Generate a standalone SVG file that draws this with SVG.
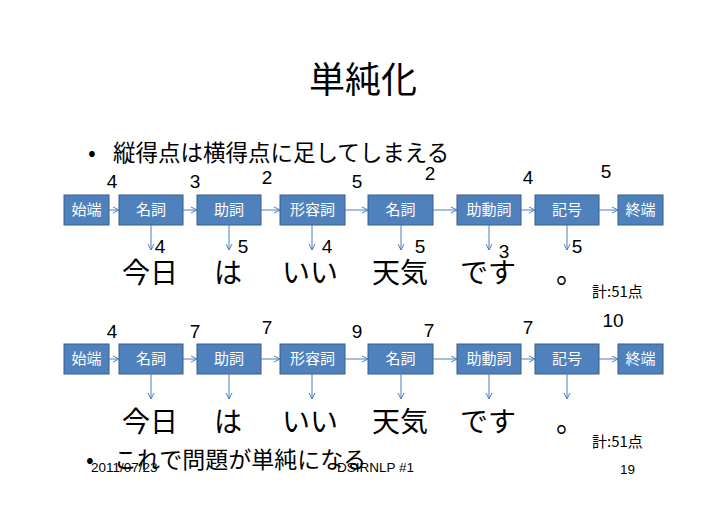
<svg xmlns="http://www.w3.org/2000/svg" width="728" height="515" viewBox="0 0 728 515">
<defs>
<marker id="ah" markerWidth="8" markerHeight="8" refX="7" refY="4" orient="auto" markerUnits="userSpaceOnUse">
<path d="M1,1 L7,4 L1,7" fill="none" stroke="#4a7ebb" stroke-width="1"/>
</marker>
</defs>
<style>
.jp{font-family:"Noto Sans CJK JP","Liberation Sans",sans-serif;fill:#000}
.box{fill:#4f81bd;stroke:#385d8a;stroke-width:1}
.bt{font-family:"Noto Sans CJK JP","Liberation Sans",sans-serif;font-size:15px;fill:#fff;text-anchor:middle}
.num{font-family:"Liberation Sans",sans-serif;font-size:19px;fill:#000;text-anchor:middle}
.word{font-family:"Noto Sans CJK JP",sans-serif;font-size:28px;fill:#000}
.tot{font-family:"Noto Sans CJK JP","Liberation Sans",sans-serif;font-size:15px;fill:#000}
.foot{font-family:"Liberation Sans",sans-serif;font-size:13.5px;fill:#000}
.conn line{stroke:#4a7ebb;stroke-width:1;marker-end:url(#ah)}
</style>
<rect width="728" height="515" fill="#fff"/>
<text class="jp" x="363" y="93" font-size="36" text-anchor="middle">単純化</text>
<text class="jp" x="88" y="161" font-size="23">•</text>
<text class="jp" x="113" y="161" font-size="22.5">縦得点は横得点に足してしまえる</text>

<!-- Row 1 -->
<g id="r1-start"><rect class="box" x="64" y="195" width="45" height="30"/><text class="bt" x="86.5" y="215">始端</text></g>
<g id="r1-noun1"><rect class="box" x="119" y="195" width="64" height="30"/><text class="bt" x="151" y="215">名詞</text></g>
<g id="r1-joshi"><rect class="box" x="197" y="195" width="64" height="30"/><text class="bt" x="229" y="215">助詞</text></g>
<g id="r1-adj"><rect class="box" x="280" y="195" width="65" height="30"/><text class="bt" x="312.5" y="215">形容詞</text></g>
<g id="r1-noun2"><rect class="box" x="368" y="195" width="65" height="30"/><text class="bt" x="400.5" y="215">名詞</text></g>
<g id="r1-aux"><rect class="box" x="457" y="195" width="64" height="30"/><text class="bt" x="489" y="215">助動詞</text></g>
<g id="r1-sym"><rect class="box" x="535" y="195" width="64" height="30"/><text class="bt" x="567" y="215">記号</text></g>
<g id="r1-end"><rect class="box" x="618" y="195" width="45" height="30"/><text class="bt" x="640.5" y="215">終端</text></g>

<!-- Row 2 -->
<g id="r2-start"><rect class="box" x="64" y="344" width="45" height="30"/><text class="bt" x="86.5" y="364">始端</text></g>
<g id="r2-noun1"><rect class="box" x="119" y="344" width="64" height="30"/><text class="bt" x="151" y="364">名詞</text></g>
<g id="r2-joshi"><rect class="box" x="197" y="344" width="64" height="30"/><text class="bt" x="229" y="364">助詞</text></g>
<g id="r2-adj"><rect class="box" x="280" y="344" width="65" height="30"/><text class="bt" x="312.5" y="364">形容詞</text></g>
<g id="r2-noun2"><rect class="box" x="368" y="344" width="65" height="30"/><text class="bt" x="400.5" y="364">名詞</text></g>
<g id="r2-aux"><rect class="box" x="457" y="344" width="64" height="30"/><text class="bt" x="489" y="364">助動詞</text></g>
<g id="r2-sym"><rect class="box" x="535" y="344" width="64" height="30"/><text class="bt" x="567" y="364">記号</text></g>
<g id="r2-end"><rect class="box" x="618" y="344" width="45" height="30"/><text class="bt" x="640.5" y="364">終端</text></g>

<g id="connectors" class="conn">
<line x1="109" y1="210" x2="119" y2="210"/>
<line x1="183" y1="210" x2="197" y2="210"/>
<line x1="261" y1="210" x2="280" y2="210"/>
<line x1="345" y1="210" x2="368" y2="210"/>
<line x1="433" y1="210" x2="457" y2="210"/>
<line x1="521" y1="210" x2="535" y2="210"/>
<line x1="599" y1="210" x2="618" y2="210"/>
<line x1="151" y1="225" x2="151" y2="250"/>
<line x1="229" y1="225" x2="229" y2="250"/>
<line x1="312" y1="225" x2="312" y2="250"/>
<line x1="401" y1="225" x2="401" y2="250"/>
<line x1="489" y1="225" x2="489" y2="250"/>
<line x1="567" y1="225" x2="567" y2="250"/>
<line x1="109" y1="359" x2="119" y2="359"/>
<line x1="183" y1="359" x2="197" y2="359"/>
<line x1="261" y1="359" x2="280" y2="359"/>
<line x1="345" y1="359" x2="368" y2="359"/>
<line x1="433" y1="359" x2="457" y2="359"/>
<line x1="521" y1="359" x2="535" y2="359"/>
<line x1="599" y1="359" x2="618" y2="359"/>
<line x1="151" y1="374" x2="151" y2="399"/>
<line x1="229" y1="374" x2="229" y2="399"/>
<line x1="312" y1="374" x2="312" y2="399"/>
<line x1="401" y1="374" x2="401" y2="399"/>
<line x1="489" y1="374" x2="489" y2="399"/>
<line x1="567" y1="374" x2="567" y2="399"/>
</g>

<g id="scores1">
<text class="num" x="112" y="188">4</text>
<text class="num" x="195" y="188">3</text>
<text class="num" x="267" y="184">2</text>
<text class="num" x="357" y="188">5</text>
<text class="num" x="430" y="180">2</text>
<text class="num" x="528" y="184">4</text>
<text class="num" x="606" y="178">5</text>
<text class="num" x="160" y="253">4</text>
<text class="num" x="243" y="253">5</text>
<text class="num" x="327" y="253">4</text>
<text class="num" x="420" y="253">5</text>
<text class="num" x="504" y="258">3</text>
<text class="num" x="577" y="253">5</text>
</g>
<g id="scores2">
<text class="num" x="112" y="338">4</text>
<text class="num" x="195" y="338">7</text>
<text class="num" x="267" y="334">7</text>
<text class="num" x="357" y="338">9</text>
<text class="num" x="429" y="337">7</text>
<text class="num" x="528" y="334">7</text>
<text class="num" x="613" y="327">10</text>
</g>

<g id="words1">
<text class="word" x="122" y="283">今日</text>
<text class="word" x="214" y="283">は</text>
<text class="word" x="282" y="283">いい</text>
<text class="word" x="372" y="283">天気</text>
<text class="word" x="460" y="283">です</text>
<text class="word" x="556" y="283">。</text>
<text class="tot" x="592" y="297">計:51点</text>
</g>
<g id="words2">
<text class="word" x="122" y="432">今日</text>
<text class="word" x="214" y="432">は</text>
<text class="word" x="282" y="432">いい</text>
<text class="word" x="372" y="432">天気</text>
<text class="word" x="460" y="432">です</text>
<text class="word" x="556" y="432">。</text>
<text class="tot" x="592" y="447">計:51点</text>
</g>

<text class="foot" x="91" y="472">2011/07/23</text>
<text class="foot" x="337" y="472">DSIRNLP #1</text>
<text class="foot" x="620" y="474">19</text>
<text class="jp" x="86" y="468" font-size="23">•</text>
<text class="jp" x="114" y="468" font-size="23">これで問題が単純になる</text>
</svg>
